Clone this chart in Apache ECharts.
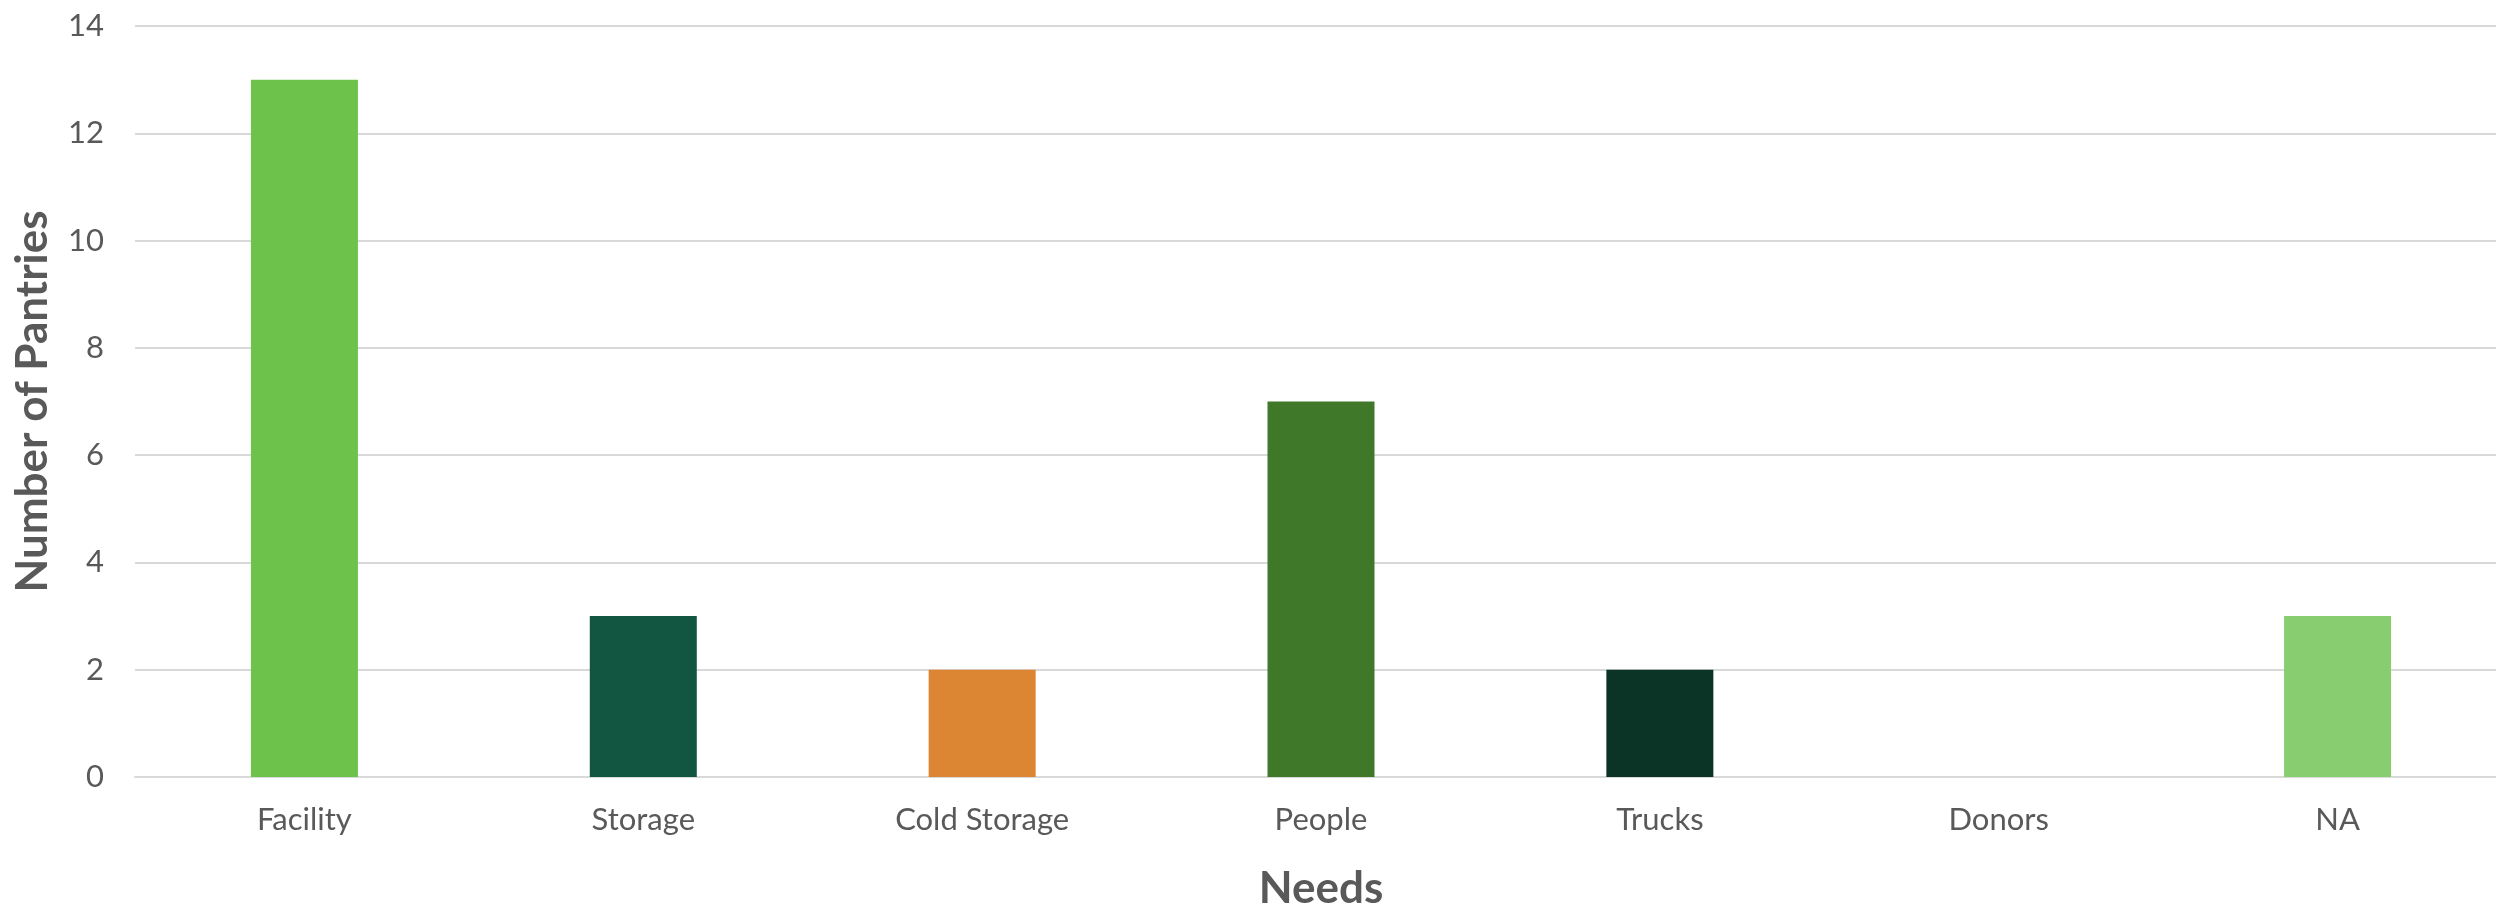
<!DOCTYPE html>
<html>
<head>
<meta charset="utf-8">
<script src="https://cdn.jsdelivr.net/npm/echarts@6/dist/echarts.min.js"></script>
<style>
  html, body { margin: 0; padding: 0; background: #fff; }
  #chart { width: 2496px; height: 910px; }
</style>
</head>
<body>
<div id="chart"></div>
<script>
// data
var categories = ['Facility', 'Storage', 'Cold Storage', 'People', 'Trucks', 'Donors', 'NA'];
var pantryCounts = [13, 3, 2, 7, 2, 0, 3];
var barColors = ['#6dc24b', '#125641', '#dc8533', '#40782a', '#0b3326', '#6dc24b', '#88cd70'];
var yTicks = [0, 2, 4, 6, 8, 10, 12, 14];

var myChart = echarts.init(document.getElementById('chart'));

var option = {
    animation: false,
    textStyle: { fontFamily: 'Lato, "Open Sans", sans-serif' },
    // plot runs slightly past the right edge, like the original
    grid: { left: 135, width: 2372, top: 26, height: 751, outerBoundsMode: 'none', containLabel: false },
    xAxis: {
        type: 'category',
        data: categories,
        name: 'Needs',
        nameLocation: 'middle',
        nameGap: 90,
        nameTextStyle: { fontSize: 44, fontWeight: 'bold', color: '#595959' },
        axisLine: { lineStyle: { color: '#d9d9d9', width: 2 } },
        axisTick: { show: false },
        axisLabel: { fontSize: 31, color: '#595959', margin: 27 }
    },
    yAxis: {
        type: 'value',
        min: yTicks[0],
        max: yTicks[yTicks.length - 1],
        interval: 2,
        name: 'Number of Pantries',
        nameLocation: 'middle',
        nameGap: 80,
        nameTextStyle: { fontSize: 44, fontWeight: 'bold', color: '#595959' },
        axisLine: { show: false },
        axisTick: { show: false },
        splitLine: { lineStyle: { color: '#d9d9d9', width: 2 } },
        axisLabel: { fontSize: 31, color: '#595959', margin: 31 }
    },
    series: [{
        type: 'bar',
        barWidth: 107,
        data: pantryCounts.map(function (v, i) {
            return { value: v, itemStyle: { color: barColors[i] } };
        })
    }]
};

myChart.setOption(option);
</script>
</body>
</html>
